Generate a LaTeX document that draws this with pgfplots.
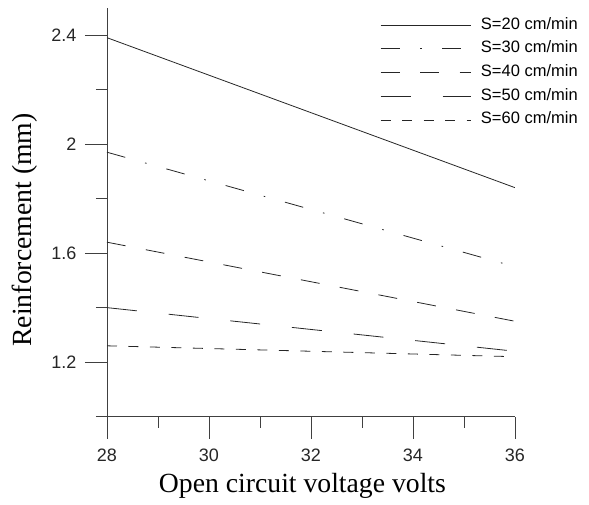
\documentclass[border=0pt]{standalone}
\usepackage{fontspec}
\setmainfont{Liberation Serif}
\newfontfamily\arialfont{Liberation Sans}
\usepackage{pgfplots}
\pgfplotsset{compat=1.18}

\begin{document}
\begin{tikzpicture}[x=1pt,y=1pt]
\useasboundingbox (-107,-87.3) rectangle (482,416.7);
\begin{axis}[
  at={(0,0)}, anchor=south west,
  scale only axis, width=408pt, height=409pt,
  xmin=28, xmax=36, ymin=1.0, ymax=2.5,
  axis x line*=bottom, axis y line*=left,
  axis line style={-, black!75, line width=0.8pt},
  xtick={28,30,32,34,36}, minor xtick={29,31,33,35},
  ytick={1.2,1.6,2.0,2.4}, minor ytick={1.0,1.4,1.8,2.2},
  yticklabels={1.2,1.6,2,2.4},
  tick align=outside,
  major tick length=22pt, minor tick length=11pt,
  every tick/.style={black!75, line width=0.8pt},
  /pgf/number format/assume math mode=true,
  tick label style={font=\arialfont\fontsize{18}{20}\selectfont, text=black!85},
  xticklabel style={anchor=north, yshift=-6.3pt},
  yticklabel style={anchor=east, xshift=-5pt},
  xlabel={Open circuit voltage volts},
  ylabel={Reinforcement (mm)},
  every axis x label/.style={at={(axis description cs:0.479,0)}, anchor=base, yshift=-75.5pt, font=\fontsize{27.7}{30}\selectfont},
  every axis y label/.style={at={([xshift=-82pt]axis description cs:0,0.4565)}, rotate=90, anchor=center, font=\fontsize{27.7}{30}\selectfont},
  legend style={draw=none, fill=none, at={(1.164,0.986)}, anchor=north east,
    font=\arialfont\fontsize{16.5}{18}\selectfont, inner sep=0pt, row sep=0.7pt,
    nodes={inner sep=4pt, text height=11.5pt, text depth=3.5pt},
    /tikz/every odd column/.append style={column sep=6pt}},
  legend cell align=left,
  legend image code/.code={\draw[#1] (0pt,0pt) -- (90pt,0pt);},
  every axis plot/.append style={line width=0.8pt, black!85},
]
\addplot[solid] coordinates {(28,2.39) (36,1.84)};
\addlegendentry{S=20 cm/min}
\addplot[dash pattern=on 19pt off 20.5pt on 1.6pt off 20.5pt] coordinates {(28,1.97) (36,1.55)};
\addlegendentry{S=30 cm/min}
\addplot[dash pattern=on 19pt off 20.5pt] coordinates {(28,1.64) (36,1.35)};
\addlegendentry{S=40 cm/min}
\addplot[dash pattern=on 30pt off 32pt] coordinates {(28,1.40) (36,1.24)};
\addlegendentry{S=50 cm/min}
\addplot[dash pattern=on 10pt off 11.5pt] coordinates {(28,1.26) (36,1.22)};
\addlegendentry{S=60 cm/min}
\end{axis}
\end{tikzpicture}
\end{document}
